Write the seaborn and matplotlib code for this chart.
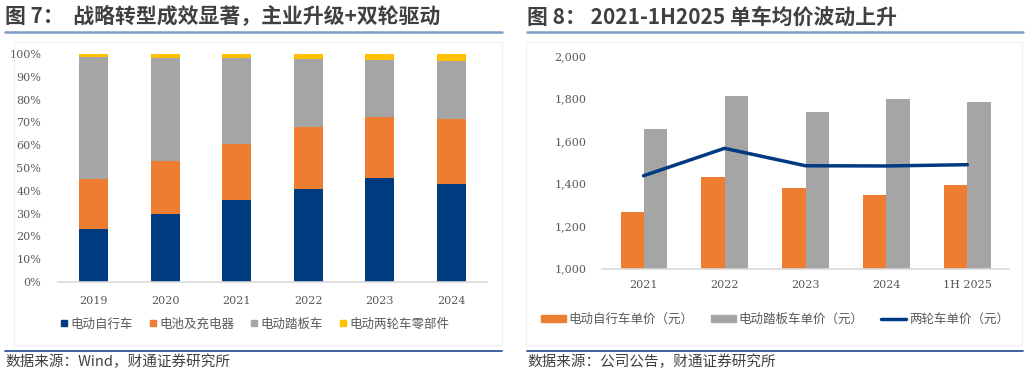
import numpy as np
import pandas as pd
import matplotlib
matplotlib.use('Agg')
import matplotlib.pyplot as plt
from matplotlib.lines import Line2D
from matplotlib.patches import Patch, Rectangle
from matplotlib.ticker import PercentFormatter, FuncFormatter
import seaborn as sns

# ---- 图7 数据（收入结构，%）----
years = ['2019', '2020', '2021', '2022', '2023', '2024']
ebike = [23.2, 29.8, 35.8, 40.9, 45.6, 43.0]
battery = [22.0, 23.4, 24.6, 27.1, 26.6, 28.5]
scooter = [53.6, 44.9, 38.0, 29.7, 25.0, 25.3]
parts = [1.2, 1.9, 1.6, 2.3, 2.8, 3.2]
left_labels = ['电动自行车', '电池及充电器', '电动踏板车', '电动两轮车零部件']

# ---- 图8 数据（单价，元）----
periods = ['2021', '2022', '2023', '2024', '1H2025']
ebike_price = [1265, 1430, 1378, 1346, 1393]
scooter_price = [1658, 1810, 1737, 1799, 1785]
avg_price = [1437, 1566, 1484, 1483, 1489]
right_labels = ['电动自行车单价（元）', '电动踏板车单价（元）', '两轮车单价（元）']

NAVY = '#003A80'
ORANGE = '#ED7D31'
GRAY = '#A5A5A5'
YELLOW = '#FFC000'
TXT = '#595959'

sns.set_theme(style='white')
plt.rcParams['font.family'] = ['Noto Sans CJK SC', 'DejaVu Sans']

fig = plt.figure(figsize=(10.28, 3.77), dpi=100)
W, H = 1028, 377


def fx(px):
    return px / W


def fy(py):
    return 1 - py / H


# 标题、分隔线、来源
fig.text(fx(5), fy(17), '图 7：  战略转型成效显著，主业升级+双轮驱动', fontsize=15,
         color='#404040', fontweight='bold', va='center', ha='left')
fig.text(fx(527), fy(17), '图 8： 2021-1H2025 单车均价波动上升', fontsize=15,
         color='#404040', fontweight='bold', va='center', ha='left')
for x0, x1 in [(5, 502), (527, 1023)]:
    fig.add_artist(Line2D([fx(x0), fx(x1)], [fy(32), fy(32)], color='#7F9CC9', lw=1.8))
    fig.add_artist(Line2D([fx(x0), fx(x1)], [fy(351), fy(351)], color='#2F5597', lw=1.3))
fig.add_artist(Rectangle((fx(14), fy(345)), fx(488), fy(42) - fy(345), transform=fig.transFigure,
                         fill=False, ec='#F0F0F0', lw=0.8))
fig.add_artist(Rectangle((fx(526), fy(345)), fx(496), fy(42) - fy(345), transform=fig.transFigure,
                         fill=False, ec='#F0F0F0', lw=0.8))
fig.text(fx(5), fy(362), '数据来源：Wind，财通证券研究所', fontsize=10.5, color='#404040',
         va='center', ha='left')
fig.text(fx(527), fy(362), '数据来源：公司公告，财通证券研究所', fontsize=10.5, color='#404040',
         va='center', ha='left')

# ---- 左图：堆积柱 ----
ax1 = fig.add_axes([fx(58), fy(282), fx(429), fy(54) - fy(282)])
df1 = pd.DataFrame({'year': years, 'ebike': ebike, 'battery': battery,
                    'scooter': scooter, 'parts': parts})
df1['c1'] = df1['ebike']
df1['c2'] = df1['c1'] + df1['battery']
df1['c3'] = df1['c2'] + df1['scooter']
df1['c4'] = df1['c3'] + df1['parts']
for col, c in [('c4', YELLOW), ('c3', GRAY), ('c2', ORANGE), ('c1', NAVY)]:
    sns.barplot(data=df1, x='year', y=col, color=c, width=0.4, saturation=1,
                linewidth=0, ax=ax1)
ax1.set_ylim(0, 100)
ax1.set_yticks(np.arange(0, 101, 10))
ax1.yaxis.set_major_formatter(PercentFormatter(xmax=100, decimals=0))
ax1.set_xlabel('')
ax1.set_ylabel('')
ax1.tick_params(axis='y', pad=12, length=0, labelsize=8, labelcolor=TXT)
ax1.tick_params(axis='x', pad=10, length=0, labelsize=8, labelcolor=TXT)
handles1 = [Line2D([], [], marker='s', ls='', color=c, markersize=5)
            for c in [NAVY, ORANGE, GRAY, YELLOW]]
fig.legend(handles1, left_labels, loc='center', bbox_to_anchor=(fx(255), fy(324)), ncol=4,
           frameon=False, fontsize=9, handlelength=0.6, handletextpad=0.2, columnspacing=1.3,
           labelcolor=TXT)

# ---- 右图：分组柱 + 折线 ----
ax2 = fig.add_axes([fx(602), fy(268.7), fx(407), fy(56) - fy(268.7)])
df2 = pd.DataFrame({'period': periods * 2,
                    'price': ebike_price + scooter_price,
                    'type': [right_labels[0]] * len(periods) + [right_labels[1]] * len(periods)})
sns.barplot(data=df2, x='period', y='price', hue='type', palette=[ORANGE, GRAY], width=0.57,
            saturation=1, linewidth=0, legend=False, ax=ax2)
sns.lineplot(x=np.arange(len(periods)), y=avg_price, color=NAVY, lw=2.5, ax=ax2)
ax2.set_ylim(1000, 2000)
ax2.set_yticks(np.arange(1000, 2001, 200))
ax2.yaxis.set_major_formatter(FuncFormatter(lambda v, p: f'{v:,.0f}'))
ax2.set_xticks(range(len(periods)))
ax2.set_xticklabels(['1H 2025' if p == '1H2025' else p for p in periods])
ax2.set_xlabel('')
ax2.set_ylabel('')
ax2.tick_params(axis='y', pad=11, length=0, labelsize=8, labelcolor=TXT)
ax2.tick_params(axis='x', pad=8, length=0, labelsize=8, labelcolor=TXT)
handles2 = [Patch(color=ORANGE), Patch(color=GRAY), Line2D([], [], color=NAVY, lw=2.5)]
fig.legend(handles2, right_labels, loc='center', bbox_to_anchor=(fx(775), fy(319)), ncol=3,
           frameon=False, fontsize=9, handlelength=2.0, handleheight=0.5, handletextpad=0.2,
           columnspacing=1.4, labelcolor=TXT)

for ax in (ax1, ax2):
    sns.despine(ax=ax, left=True)
    ax.spines['bottom'].set_color('#D9D9D9')
    ax.spines['bottom'].set_linewidth(1.2)
    for lbl in ax.get_xticklabels() + ax.get_yticklabels():
        lbl.set_fontfamily('DejaVu Serif')
    ax.set_facecolor('none')

fig.savefig('out.png', dpi=100)
